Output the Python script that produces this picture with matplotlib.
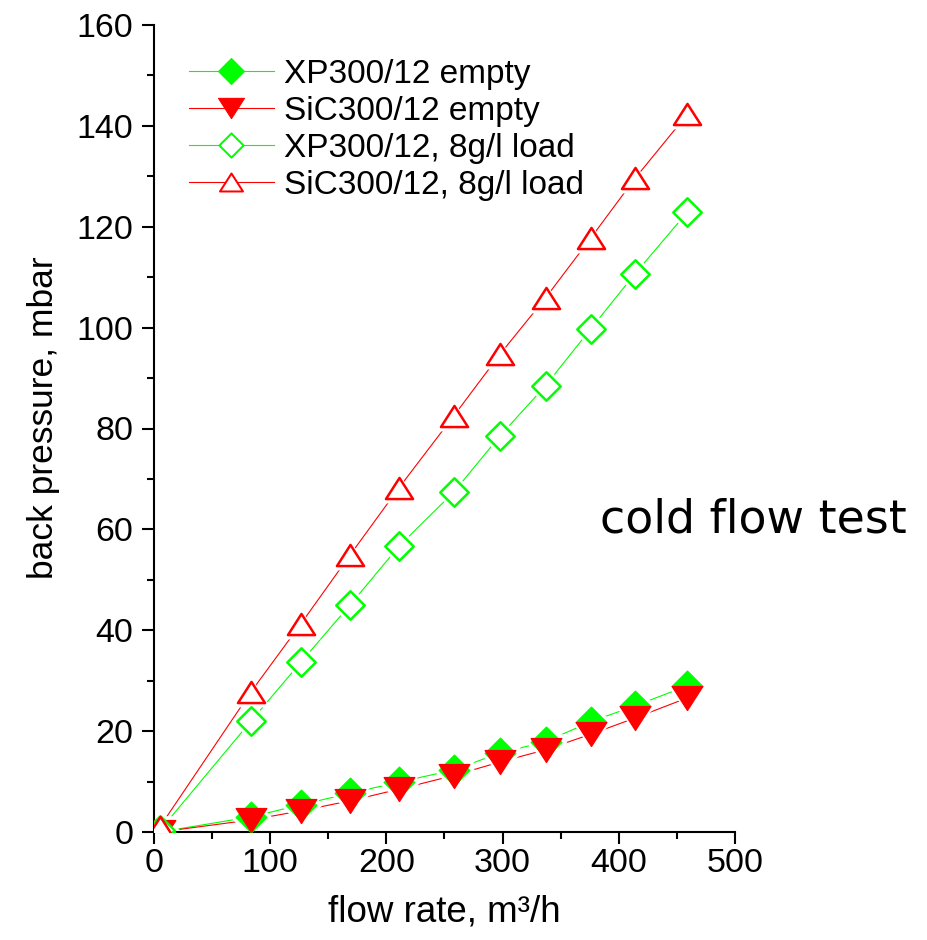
import matplotlib
matplotlib.use("Agg")
import matplotlib.pyplot as plt
from matplotlib.path import Path
from matplotlib.lines import Line2D
from matplotlib.ticker import MultipleLocator

# ---- data ----
flow_rate = [5, 83.5, 126.5, 169, 211, 258, 298, 337, 376, 414, 459]
xp_empty = [0.0, 3.0, 5.4, 7.7, 9.9, 12.3, 15.7, 17.9, 21.9, 25.0, 29.0]
sic_empty = [0.0, 2.4, 4.2, 6.2, 8.5, 11.2, 13.9, 16.3, 19.4, 22.6, 26.6]
xp_load = [0.3, 22.0, 33.7, 45.1, 56.7, 67.4, 78.6, 88.5, 99.8, 110.7, 122.9]
sic_load = [1.0, 27.8, 41.3, 55.0, 68.3, 82.5, 94.8, 105.9, 117.8, 129.6, 142.3]

labels = ["XP300/12 empty", "SiC300/12 empty", "XP300/12, 8g/l load", "SiC300/12, 8g/l load"]
x_ticks = [0, 100, 200, 300, 400, 500]
y_ticks = [0, 20, 40, 60, 80, 100, 120, 140, 160]

GREEN = "#00ff00"
RED = "#ff0000"

diamond = Path([(0, 1), (1, 0), (0, -1), (-1, 0), (0, 1)], closed=True)
tri_down = Path([(0, -0.78), (1, 0.78), (-1, 0.78), (0, -0.78)], closed=True)
tri_up = Path([(0, 0.78), (1, -0.78), (-1, -0.78), (0, 0.78)], closed=True)

series = [
    dict(y=xp_empty, color=GREEN, marker=diamond, ms=22, mfc=GREEN, mew=1.0),
    dict(y=sic_empty, color=RED, marker=tri_down, ms=22, mfc=RED, mew=1.0),
    dict(y=xp_load, color=GREEN, marker=diamond, ms=20.5, mfc="white", mew=1.8),
    dict(y=sic_load, color=RED, marker=tri_up, ms=19.5, mfc="white", mew=1.8),
]

plt.rcParams["font.family"] = ["Liberation Sans", "DejaVu Sans"]

fig = plt.figure(figsize=(9.28, 9.40), dpi=100)
ax = fig.add_axes([154 / 928, 1 - 832 / 940, 581 / 928, 807 / 940])

# lines
for s in series:
    ax.plot(flow_rate, s["y"], color=s["color"], lw=0.8, zorder=2)
# white halos to create gaps between lines and markers
for s in series:
    ax.plot(flow_rate, s["y"], ls="none", marker=s["marker"], ms=s["ms"] + 8,
            mfc="white", mec="white", mew=0, zorder=2.2)
# markers
for s in series:
    ax.plot(flow_rate, s["y"], ls="none", marker=s["marker"], ms=s["ms"],
            mfc=s["mfc"], mec=s["color"], mew=s["mew"], zorder=3)

handles = [Line2D([], [], color=s["color"], lw=0.8, marker=s["marker"], ms=s["ms"],
                  mfc=s["mfc"], mec=s["color"], mew=s["mew"] * 0.8) for s in series]
ax.legend(handles, labels, loc="upper left", bbox_to_anchor=(0.060, 0.958),
          frameon=False, fontsize=24, markerscale=0.85, handlelength=2.55,
          handletextpad=0.3, labelspacing=0.18, borderpad=0, borderaxespad=0)

ax.text(384, 59.3, "cold flow test", fontsize=33, family="DejaVu Sans",
        ha="left", va="baseline")

ax.set_xlim(0, 500)
ax.set_ylim(0, 160)
ax.set_xticks(x_ticks)
ax.set_yticks(y_ticks)
ax.xaxis.set_minor_locator(MultipleLocator(50))
ax.yaxis.set_minor_locator(MultipleLocator(10))
for sp in ["top", "right"]:
    ax.spines[sp].set_visible(False)
for sp in ["left", "bottom"]:
    ax.spines[sp].set_linewidth(1.5)
ax.tick_params(which="major", direction="out", length=8.5, width=1.5, labelsize=24.5)
ax.tick_params(which="minor", direction="out", length=5, width=1.5)
ax.tick_params(axis="y", which="major", pad=6.5)
ax.tick_params(axis="x", which="major", pad=3)

ax.set_xlabel("flow rate, m³/h", fontsize=26.5)
ax.set_ylabel("back pressure, mbar", fontsize=25.5)
ax.xaxis.set_label_coords(0.5, -0.077)
ax.yaxis.set_label_coords(-0.162, 0.514)

fig.savefig("out.png", dpi=100)
